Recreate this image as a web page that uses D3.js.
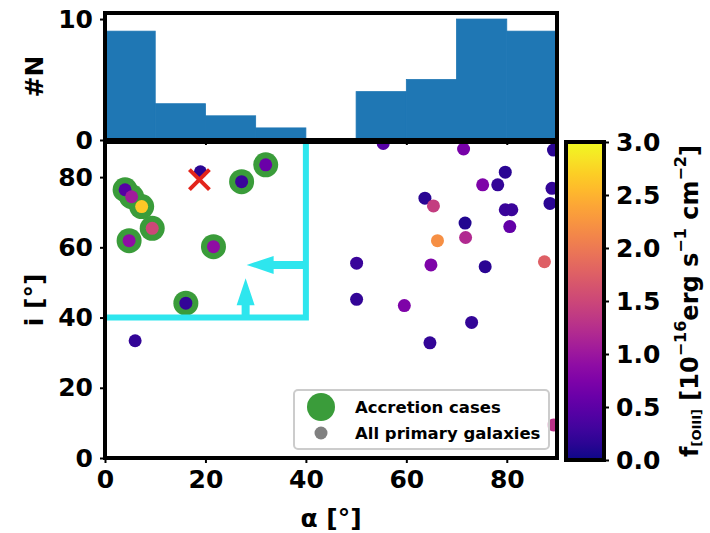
<!DOCTYPE html>
<html lang="en">
<head>
    <meta charset="utf-8">
    <title>Alpha vs inclination</title>
    <script src="https://d3js.org/d3.v7.min.js"></script>
    <style>
        body { margin: 0; background: #fff; }
        text { font-family: "DejaVu Sans", sans-serif; font-weight: bold; fill: #000; }
    </style>
</head>
<body>
<div id="chart"></div>
<script>
    // histogram of alpha
    const binEdges = [0, 10, 20, 30, 40, 50, 60, 70, 80, 90];
    const binCounts = [9, 3, 2, 1, 0, 4, 5, 10, 9];

    // all primary galaxies: alpha [deg], inclination [deg], f_OIII [1e-16 erg/s/cm2]
    const galAlpha = [4.0, 5.3, 7.3, 9.4, 4.8, 21.6, 16.1, 27.2, 32.0, 19.0, 6.0,
        55.4, 63.7, 50.1, 50.1, 59.6, 64.9, 71.4, 65.4, 79.7, 75.2, 78.2, 79.7, 81.0,
        80.6, 71.7, 71.8, 66.2, 75.7, 87.5, 89.3, 89.0, 88.6, 73.0, 64.7, 89.3];
    const galIncl = [76.4, 74.4, 71.6, 65.4, 61.9, 60.2, 44.1, 78.7, 83.5, 81.5, 33.4,
        89.6, 74.0, 55.5, 45.2, 43.4, 55.0, 88.0, 71.8, 81.4, 77.8, 77.8, 70.7, 70.7,
        65.9, 66.9, 62.8, 61.9, 54.5, 55.9, 87.7, 76.8, 72.5, 38.6, 32.8, 9.4];
    const galFlux = [0.45, 1.05, 2.65, 1.5, 0.9, 0.9, 0.2, 0.25, 0.6, 0.15, 0.2,
        0.45, 0.15, 0.25, 0.2, 0.75, 0.75, 0.7, 1.4, 0.15, 0.75, 0.2, 0.25, 0.25,
        0.55, 0.1, 1.2, 2.2, 0.15, 1.75, 0.15, 0.2, 0.15, 0.2, 0.2, 1.3];

    // accretion cases (green rings)
    const accAlpha = [4.0, 5.3, 7.3, 9.4, 4.8, 21.6, 16.1, 27.2, 32.0];
    const accIncl = [76.4, 74.4, 71.6, 65.4, 61.9, 60.2, 44.1, 78.7, 83.5];

    // red cross
    const crossAlpha = [18.8];
    const crossIncl = [79.3];

    // cyan selection box corner and arrows
    const boxAlpha = 40, boxIncl = 40;
    const arrowFrom = [[40, 55], [28, 40]];
    const arrowTo = [[28.2, 55], [28, 51.2]];

    const xTicks = [0, 20, 40, 60, 80];
    const yTicks = [0, 20, 40, 60, 80];
    const histTicks = [0, 10];
    const cbTicks = [0, 0.5, 1.0, 1.5, 2.0, 2.5, 3.0];

    const W = 710, H = 533;
    const svg = d3.select("#chart").append("svg")
        .attr("width", W).attr("height", H);

    const x = d3.scaleLinear().domain([0, 90]).range([105, 557]);
    const y = d3.scaleLinear().domain([0, 90]).range([458, 142]);
    const hy = d3.scaleLinear().domain([0, 10.5]).range([140, 13]);
    const cy = d3.scaleLinear().domain([0, 3]).range([460, 142]);
    const color = d3.scaleSequential(d3.interpolatePlasma).domain([0, 3]);

    const fs = 25;

    function styleAxis(g) {
        g.select(".domain").remove();
        g.selectAll(".tick line").attr("stroke", "#000").attr("stroke-width", 2);
        g.selectAll(".tick text").style("font-size", fs + "px");
    }

    // ---------- histogram ----------
    const hist = svg.append("g");
    hist.selectAll("rect.bar")
        .data(binCounts)
        .join("rect")
        .attr("class", "bar")
        .attr("x", (d, i) => x(binEdges[i]))
        .attr("width", (d, i) => x(binEdges[i + 1]) - x(binEdges[i]))
        .attr("y", d => hy(d))
        .attr("height", d => hy(0) - hy(d))
        .attr("fill", "#1f77b4")
        .attr("stroke", d => d > 0 ? "#1f77b4" : "none")
        .attr("stroke-width", 0.8);

    hist.append("g")
        .attr("transform", `translate(${x.range()[0]},0)`)
        .call(d3.axisLeft(hy).tickValues(histTicks).tickSize(5).tickPadding(7))
        .call(styleAxis);

    hist.append("g")
        .attr("transform", `translate(0,${hy(0)})`)
        .call(d3.axisBottom(x).tickValues(xTicks).tickSize(5).tickFormat(""))
        .call(styleAxis);

    hist.append("rect")
        .attr("x", x(0)).attr("y", hy.range()[1])
        .attr("width", x(90) - x(0)).attr("height", hy(0) - hy.range()[1])
        .attr("fill", "none").attr("stroke", "#000").attr("stroke-width", 4);

    hist.append("text")
        .attr("transform", `translate(34,${(hy(0) + hy.range()[1]) / 2}) rotate(-90)`)
        .attr("text-anchor", "middle")
        .attr("dominant-baseline", "central")
        .style("font-size", fs + "px")
        .text("#N");

    // ---------- scatter ----------
    const main = svg.append("g");
    main.append("clipPath").attr("id", "clip")
        .append("rect")
        .attr("x", x(0)).attr("y", y(90))
        .attr("width", x(90) - x(0)).attr("height", y(0) - y(90));

    const plot = main.append("g").attr("clip-path", "url(#clip)");

    plot.selectAll("circle.acc")
        .data(accAlpha)
        .join("circle")
        .attr("class", "acc")
        .attr("cx", d => x(d))
        .attr("cy", (d, i) => y(accIncl[i]))
        .attr("r", 12.5)
        .attr("fill", "#3a9c3a");

    plot.selectAll("circle.gal")
        .data(galAlpha)
        .join("circle")
        .attr("class", "gal")
        .attr("cx", d => x(d))
        .attr("cy", (d, i) => y(galIncl[i]))
        .attr("r", 6.5)
        .attr("fill", (d, i) => color(galFlux[i]));

    // cyan box
    plot.append("path")
        .attr("d", `M${x(boxAlpha)},${y(90)} L${x(boxAlpha)},${y(boxIncl)} L${x(0)},${y(boxIncl)}`)
        .attr("fill", "none")
        .attr("stroke", "#2ee6ee")
        .attr("stroke-width", 6);

    // arrows
    arrowFrom.forEach((f, k) => {
        const x0 = x(f[0]), y0 = y(f[1]);
        const x1 = x(arrowTo[k][0]), y1 = y(arrowTo[k][1]);
        const len = Math.hypot(x1 - x0, y1 - y0);
        const ux = (x1 - x0) / len, uy = (y1 - y0) / len;
        const px = -uy, py = ux;
        const headLen = 27, headW = 9, shaftW = 4;
        const bx = x1 - ux * headLen, by = y1 - uy * headLen;
        const pts = [
            [x0 + px * shaftW, y0 + py * shaftW],
            [bx + px * shaftW, by + py * shaftW],
            [bx + px * headW, by + py * headW],
            [x1, y1],
            [bx - px * headW, by - py * headW],
            [bx - px * shaftW, by - py * shaftW],
            [x0 - px * shaftW, y0 - py * shaftW]
        ];
        plot.append("path")
            .attr("d", d3.line()(pts) + "Z")
            .attr("fill", "#2ee6ee");
    });

    // red cross
    crossAlpha.forEach((a, k) => {
        const cx = x(a), cyy = y(crossIncl[k]), s = 10;
        plot.append("path")
            .attr("d", `M${cx - s},${cyy - s}L${cx + s},${cyy + s}M${cx - s},${cyy + s}L${cx + s},${cyy - s}`)
            .attr("stroke", "#e3241b")
            .attr("stroke-width", 4);
    });

    main.append("g")
        .attr("transform", `translate(${x(0)},0)`)
        .call(d3.axisLeft(y).tickValues(yTicks).tickSize(5).tickPadding(7))
        .call(styleAxis);

    main.append("g")
        .attr("transform", `translate(0,${y(0)})`)
        .call(d3.axisBottom(x).tickValues(xTicks).tickSize(5).tickPadding(7))
        .call(styleAxis);

    main.append("rect")
        .attr("x", x(0)).attr("y", y(90))
        .attr("width", x(90) - x(0)).attr("height", y(0) - y(90))
        .attr("fill", "none").attr("stroke", "#000").attr("stroke-width", 4);

    main.append("text")
        .attr("transform", `translate(34,${(y(0) + y(90)) / 2}) rotate(-90)`)
        .attr("text-anchor", "middle")
        .attr("dominant-baseline", "central")
        .style("font-size", fs + "px")
        .text("i [°]");

    main.append("text")
        .attr("x", (x(0) + x(90)) / 2).attr("y", 518)
        .attr("text-anchor", "middle")
        .attr("dominant-baseline", "central")
        .style("font-size", fs + "px")
        .text("α [°]");

    // legend
    const leg = main.append("g");
    leg.append("rect")
        .attr("x", 294).attr("y", 390).attr("width", 255).attr("height", 59)
        .attr("rx", 4)
        .attr("fill", "#fff").attr("fill-opacity", 0.8)
        .attr("stroke", "#cccccc").attr("stroke-width", 2);
    const legItems = [
        {label: "Accretion cases", r: 14, fill: "#3a9c3a", yy: 407},
        {label: "All primary galaxies", r: 6.5, fill: "#808080", yy: 433}
    ];
    legItems.forEach(it => {
        leg.append("circle").attr("cx", 321).attr("cy", it.yy).attr("r", it.r).attr("fill", it.fill);
        leg.append("text").attr("x", 355).attr("y", it.yy)
            .attr("dominant-baseline", "central")
            .style("font-size", "16.5px")
            .text(it.label);
    });

    // ---------- colorbar ----------
    const cbX = 566, cbW = 38;
    const grad = svg.append("defs").append("linearGradient")
        .attr("id", "cbgrad")
        .attr("x1", 0).attr("y1", 1).attr("x2", 0).attr("y2", 0);
    d3.range(0, 1.0001, 0.05).forEach(t => {
        grad.append("stop").attr("offset", t).attr("stop-color", d3.interpolatePlasma(t));
    });
    svg.append("rect")
        .attr("x", cbX).attr("y", cy(3))
        .attr("width", cbW).attr("height", cy(0) - cy(3))
        .attr("fill", "url(#cbgrad)")
        .attr("stroke", "#000").attr("stroke-width", 4);

    svg.append("g")
        .attr("transform", `translate(${cbX + cbW},0)`)
        .call(d3.axisRight(cy).tickValues(cbTicks).tickSize(5).tickPadding(7).tickFormat(d3.format(".1f")))
        .call(styleAxis);

    const cbLabel = svg.append("text")
        .attr("transform", `translate(690,${(cy(0) + cy(3)) / 2}) rotate(-90)`)
        .attr("text-anchor", "middle")
        .attr("dominant-baseline", "central")
        .style("font-size", "24px");
    cbLabel.append("tspan").text("f");
    cbLabel.append("tspan").attr("dy", 6).style("font-size", "13px").text("[OIII]");
    cbLabel.append("tspan").attr("dy", -6).text(" [10");
    cbLabel.append("tspan").attr("dy", -10).style("font-size", "16px").text("−16");
    cbLabel.append("tspan").attr("dy", 10).text("erg s");
    cbLabel.append("tspan").attr("dy", -10).style("font-size", "16px").text("−1");
    cbLabel.append("tspan").attr("dy", 10).text(" cm");
    cbLabel.append("tspan").attr("dy", -10).style("font-size", "16px").text("−2");
    cbLabel.append("tspan").attr("dy", 10).text("]");
</script>
</body>
</html>
